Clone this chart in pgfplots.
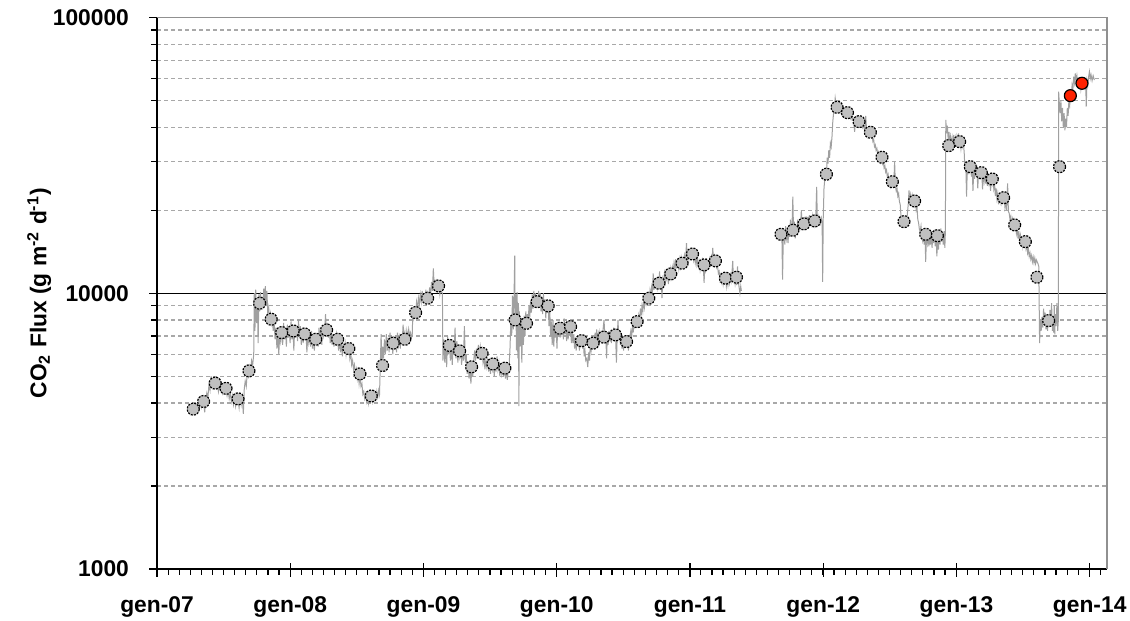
\documentclass[border=0pt]{standalone}
\usepackage{fontspec}
\setmainfont{Liberation Sans}
\usepackage{pgfplots}
\usepackage{pgfplotstable}
\pgfplotsset{compat=1.18}
\definecolor{linegray}{HTML}{A0A0A0}
\definecolor{markgray}{HTML}{C0C0C0}
\definecolor{gridgray}{HTML}{A8A8A8}
\definecolor{framegray}{HTML}{909090}
\definecolor{markred}{HTML}{FF2200}

% daily flux (gray line); nan breaks the line over the data gap
\pgfplotstableread{
x y
2007.240 3900
2007.250 3750
2007.258 3880
2007.266 3720
2007.272 3850
2007.280 3950
2007.288 3700
2007.296 3900
2007.304 3760
2007.312 4050
2007.320 3850
2007.328 4250
2007.336 3900
2007.344 4150
2007.350 4000
2007.358 3700
2007.366 4100
2007.374 4350
2007.382 4200
2007.390 4650
2007.398 4450
2007.406 5000
2007.414 4650
2007.422 4850
2007.430 4600
2007.437 4750
2007.445 4550
2007.453 4750
2007.461 4400
2007.469 4650
2007.477 4450
2007.485 4600
2007.493 4350
2007.501 4550
2007.509 4400
2007.518 4500
2007.526 4250
2007.534 4450
2007.542 4150
2007.550 4350
2007.558 4050
2007.566 4250
2007.574 3950
2007.582 4200
2007.590 3900
2007.598 4150
2007.608 4100
2007.616 3850
2007.624 4300
2007.632 3950
2007.640 4200
2007.648 3650
2007.655 4500
2007.662 4800
2007.670 4600
2007.678 5200
2007.686 5000
2007.694 5400
2007.702 5100
2007.710 5700
2007.718 5500
2007.726 6000
2007.730 10000
2007.735 7300
2007.741 10300
2007.747 7800
2007.753 9600
2007.759 6600
2007.765 9900
2007.771 8600
2007.777 10100
2007.783 8800
2007.789 9700
2007.795 9100
2007.801 10400
2007.807 9300
2007.813 10600
2007.819 9000
2007.825 10200
2007.831 8500
2007.838 8900
2007.845 7900
2007.852 8400
2007.858 7800
2007.865 8200
2007.872 7300
2007.879 7900
2007.886 6800
2007.893 7500
2007.900 6300
2007.907 7200
2007.914 6000
2007.921 7100
2007.928 6700
2007.936 7400
2007.943 6500
2007.950 7800
2007.957 6800
2007.964 7500
2007.971 6400
2007.978 7700
2007.985 6900
2007.992 7500
2007.999 6600
2008.006 7900
2008.013 6800
2008.020 7500
2008.027 6200
2008.034 7700
2008.041 6900
2008.048 7400
2008.055 6700
2008.062 8000
2008.069 7000
2008.076 7600
2008.083 6500
2008.090 7300
2008.097 6600
2008.104 7400
2008.111 6900
2008.118 7200
2008.125 6100
2008.132 7100
2008.139 6600
2008.146 7000
2008.153 6400
2008.160 7300
2008.167 6300
2008.174 6900
2008.181 6200
2008.188 6900
2008.195 6600
2008.202 7100
2008.209 6400
2008.216 7500
2008.223 6800
2008.230 7200
2008.237 6500
2008.244 7600
2008.251 7000
2008.258 7300
2008.265 8400
2008.272 7100
2008.279 7800
2008.286 6900
2008.293 7600
2008.300 6600
2008.307 7300
2008.314 6500
2008.321 7100
2008.328 6400
2008.335 7000
2008.342 6500
2008.349 7100
2008.356 6700
2008.363 6200
2008.370 6900
2008.377 6100
2008.384 6700
2008.391 5900
2008.398 6500
2008.405 6300
2008.412 6600
2008.419 6000
2008.426 6400
2008.433 6100
2008.440 6300
2008.447 5800
2008.454 6100
2008.461 5500
2008.468 5700
2008.475 5300
2008.482 5500
2008.489 5100
2008.496 5300
2008.503 4900
2008.510 5200
2008.517 4700
2008.524 5000
2008.531 4600
2008.538 4700
2008.545 4300
2008.552 4400
2008.559 4150
2008.566 4300
2008.573 4050
2008.580 4250
2008.587 4000
2008.594 4300
2008.601 4100
2008.608 4250
2008.615 4050
2008.622 4300
2008.629 4100
2008.636 4350
2008.643 4150
2008.650 4400
2008.657 4200
2008.664 4450
2008.670 4300
2008.676 5500
2008.682 7100
2008.688 5400
2008.694 6400
2008.700 5800
2008.707 6800
2008.714 6000
2008.721 7100
2008.728 6200
2008.735 6900
2008.742 6100
2008.749 7200
2008.756 6400
2008.763 6800
2008.770 6000
2008.777 7000
2008.784 6300
2008.791 6900
2008.798 6100
2008.805 7200
2008.812 6500
2008.819 6900
2008.826 6300
2008.833 7100
2008.840 6600
2008.847 7700
2008.854 6800
2008.861 7200
2008.868 6600
2008.875 7300
2008.882 6900
2008.889 7400
2008.896 7000
2008.903 7200
2008.910 6900
2008.916 7100
2008.920 8700
2008.927 8200
2008.934 9000
2008.941 8400
2008.948 9300
2008.955 8800
2008.962 9600
2008.969 9100
2008.976 9900
2008.983 9300
2008.990 10200
2008.997 9500
2009.004 9800
2009.011 9200
2009.018 10300
2009.025 9400
2009.032 10000
2009.039 9600
2009.046 10500
2009.053 9800
2009.060 11000
2009.067 10200
2009.074 12300
2009.081 10400
2009.088 11200
2009.095 10100
2009.102 10900
2009.109 10300
2009.116 10800
2009.123 9900
2009.130 10400
2009.136 10100
2009.142 10000
2009.146 5700
2009.153 6800
2009.160 5600
2009.167 6500
2009.174 5400
2009.181 7000
2009.188 6000
2009.195 6600
2009.202 5700
2009.209 6400
2009.216 5500
2009.223 6600
2009.230 6000
2009.237 7500
2009.244 5800
2009.251 6700
2009.258 5600
2009.265 6400
2009.272 5900
2009.279 6300
2009.286 5500
2009.293 6200
2009.300 5700
2009.307 7600
2009.314 5600
2009.321 6000
2009.328 5100
2009.335 5600
2009.342 4900
2009.349 5300
2009.356 4700
2009.363 5400
2009.370 5000
2009.377 5700
2009.384 6200
2009.391 5700
2009.398 6300
2009.405 5800
2009.412 6500
2009.419 6000
2009.426 6400
2009.433 5900
2009.440 6200
2009.447 5600
2009.454 5900
2009.461 5300
2009.468 5700
2009.475 5400
2009.482 5800
2009.489 5200
2009.496 5600
2009.503 5100
2009.510 5700
2009.517 5300
2009.524 5600
2009.531 5000
2009.538 5500
2009.545 5200
2009.552 5900
2009.559 5300
2009.566 5600
2009.573 5000
2009.580 5400
2009.587 5100
2009.594 5600
2009.601 5000
2009.608 5400
2009.615 4900
2009.622 5300
2009.629 4850
2009.636 5200
2009.643 5500
2009.650 6400
2009.656 8200
2009.662 7000
2009.668 9800
2009.674 7400
2009.680 10000
2009.685 13700
2009.688 7600
2009.693 9900
2009.698 6200
2009.703 10100
2009.708 5800
2009.713 9200
2009.716 3900
2009.720 8600
2009.726 6400
2009.732 8000
2009.738 5600
2009.744 7800
2009.750 6500
2009.756 8300
2009.762 7000
2009.768 8600
2009.774 7600
2009.780 8400
2009.786 7900
2009.792 9000
2009.798 8200
2009.804 9400
2009.810 8500
2009.816 9900
2009.822 8800
2009.828 10200
2009.834 9100
2009.840 10000
2009.846 9200
2009.852 9800
2009.858 8900
2009.864 10200
2009.870 9300
2009.876 10000
2009.882 8600
2009.888 9700
2009.894 8400
2009.900 10000
2009.906 8800
2009.912 9500
2009.918 8100
2009.924 9400
2009.930 8500
2009.936 9000
2009.942 7600
2009.948 8600
2009.954 7000
2009.960 7900
2009.966 6500
2009.972 8000
2009.978 6400
2009.984 7600
2009.990 6900
2009.996 7400
2010.002 6300
2010.008 7800
2010.014 7000
2010.020 7600
2010.026 6900
2010.032 7700
2010.038 7200
2010.044 7600
2010.050 6800
2010.056 8100
2010.062 7100
2010.068 7700
2010.074 6700
2010.080 7500
2010.086 6800
2010.092 7900
2010.098 7000
2010.104 7500
2010.110 6600
2010.116 7300
2010.122 6600
2010.128 7100
2010.134 6300
2010.140 6900
2010.146 6200
2010.152 6800
2010.158 6400
2010.164 6900
2010.170 6200
2010.176 6600
2010.182 6500
2010.188 6900
2010.194 6300
2010.200 6700
2010.206 5900
2010.212 6200
2010.218 5700
2010.226 5800
2010.233 5400
2010.240 6100
2010.246 5700
2010.252 6500
2010.258 6200
2010.264 6800
2010.270 6400
2010.276 6900
2010.282 6500
2010.288 7200
2010.294 6600
2010.300 7400
2010.306 6800
2010.312 7100
2010.318 6500
2010.324 7200
2010.330 6900
2010.336 7300
2010.342 6700
2010.348 7400
2010.355 8000
2010.362 6900
2010.368 7200
2010.374 5800
2010.380 7000
2010.386 6500
2010.392 7300
2010.398 6700
2010.404 7100
2010.410 6600
2010.416 7200
2010.422 6800
2010.428 7500
2010.434 6900
2010.441 7200
2010.448 5600
2010.454 7000
2010.460 8000
2010.466 6800
2010.472 7100
2010.478 6500
2010.484 7000
2010.490 6300
2010.496 6900
2010.502 6200
2010.508 6800
2010.514 6400
2010.520 6900
2010.526 6500
2010.532 6700
2010.538 6200
2010.544 6600
2010.550 7000
2010.556 7300
2010.562 6900
2010.568 7600
2010.574 7200
2010.580 7900
2010.586 7600
2010.592 8200
2010.598 7700
2010.604 8000
2010.610 7500
2010.616 8300
2010.622 8000
2010.628 8800
2010.634 8300
2010.640 9000
2010.646 8600
2010.652 9400
2010.658 8900
2010.664 9600
2010.670 9200
2010.676 9900
2010.682 9300
2010.688 9800
2010.694 9400
2010.700 10200
2010.706 9700
2010.712 10500
2010.718 10000
2010.724 11800
2010.730 10300
2010.736 10900
2010.742 10600
2010.748 11100
2010.754 10500
2010.760 11200
2010.766 10700
2010.772 12000
2010.778 10400
2010.784 11400
2010.790 9600
2010.796 11300
2010.802 11000
2010.808 11800
2010.814 11200
2010.820 12100
2010.826 11300
2010.832 11700
2010.838 10800
2010.844 11900
2010.850 11400
2010.856 12200
2010.862 11500
2010.868 12400
2010.874 11900
2010.880 12800
2010.886 12100
2010.892 13300
2010.898 12400
2010.904 12600
2010.910 13000
2010.916 12300
2010.922 13200
2010.928 12500
2010.934 13400
2010.940 12700
2010.946 13300
2010.952 12900
2010.958 13700
2010.964 13100
2010.970 14000
2010.974 15200
2010.980 13400
2010.986 14000
2010.992 13300
2010.998 14100
2011.004 13500
2011.010 14200
2011.016 13700
2011.022 14000
2011.028 13200
2011.034 13800
2011.040 12900
2011.046 13500
2011.052 12700
2011.058 13300
2011.064 12500
2011.070 13000
2011.076 12200
2011.082 12900
2011.088 12400
2011.094 13100
2011.100 12500
2011.106 10900
2011.112 12800
2011.118 12200
2011.124 13400
2011.130 12700
2011.136 13000
2011.142 12600
2011.148 13300
2011.154 12800
2011.160 13500
2011.166 13000
2011.171 14600
2011.177 13200
2011.183 13600
2011.189 12900
2011.195 13300
2011.201 12400
2011.207 12600
2011.213 11800
2011.219 12000
2011.225 11200
2011.231 11600
2011.237 11000
2011.243 11500
2011.249 10800
2011.255 11400
2011.261 11000
2011.267 11500
2011.273 10600
2011.279 11200
2011.285 10700
2011.291 11400
2011.297 10900
2011.303 11600
2011.309 11100
2011.315 11800
2011.321 13100
2011.327 11000
2011.333 11500
2011.339 10800
2011.345 11300
2011.351 10700
2011.357 12500
2011.363 11000
2011.369 10500
2011.375 10000
2011.381 10600
2011.386 10200
2011.500 nan
2011.690 16000
2011.695 11200
2011.700 15500
2011.706 16800
2011.712 15000
2011.718 17500
2011.724 15800
2011.730 16500
2011.736 15200
2011.742 17000
2011.748 16000
2011.754 18500
2011.760 16500
2011.766 17500
2011.772 22400
2011.778 16200
2011.784 18200
2011.790 15800
2011.796 17600
2011.802 16600
2011.808 18500
2011.814 17000
2011.820 18000
2011.826 17300
2011.832 18400
2011.836 20000
2011.842 17200
2011.848 18800
2011.854 17400
2011.860 18900
2011.866 17600
2011.872 19000
2011.878 17800
2011.884 18900
2011.890 17500
2011.896 19200
2011.902 18000
2011.908 18500
2011.914 17800
2011.920 19000
2011.926 18000
2011.932 18800
2011.938 17700
2011.944 18600
2011.951 24300
2011.956 18300
2011.962 19000
2011.968 18200
2011.974 18800
2011.980 18000
2011.986 18700
2011.992 17900
2011.996 11000
2012.000 18500
2012.006 24000
2012.012 26000
2012.018 27500
2012.024 27000
2012.030 31000
2012.036 29500
2012.042 33000
2012.048 31000
2012.054 35000
2012.060 34000
2012.066 37000
2012.072 42000
2012.078 45000
2012.084 47000
2012.090 51000
2012.096 48500
2012.102 47500
2012.108 46500
2012.114 48000
2012.120 46000
2012.126 47000
2012.132 45500
2012.138 46800
2012.144 44800
2012.150 46000
2012.156 44000
2012.162 45300
2012.168 43800
2012.174 45500
2012.180 44500
2012.186 45800
2012.192 44000
2012.198 44800
2012.204 43200
2012.210 44200
2012.216 42800
2012.222 43500
2012.228 42000
2012.236 38500
2012.242 42500
2012.248 41200
2012.254 42800
2012.260 41500
2012.266 42200
2012.272 41000
2012.278 41800
2012.284 40500
2012.290 41500
2012.296 40000
2012.302 41000
2012.308 39500
2012.314 40500
2012.319 44000
2012.325 39500
2012.331 39800
2012.337 38500
2012.343 39200
2012.349 38000
2012.355 38600
2012.361 37000
2012.367 37500
2012.373 35500
2012.379 36000
2012.385 34000
2012.391 34500
2012.397 33000
2012.403 33500
2012.409 32000
2012.415 32500
2012.421 31000
2012.427 31500
2012.433 30000
2012.439 31000
2012.445 29500
2012.451 30000
2012.457 28500
2012.463 29000
2012.469 27500
2012.475 28000
2012.481 26500
2012.487 27000
2012.493 25500
2012.499 26000
2012.505 24500
2012.511 25500
2012.517 24800
2012.523 25600
2012.529 24200
2012.536 30000
2012.542 24500
2012.548 23500
2012.554 24000
2012.560 22500
2012.566 23000
2012.572 21500
2012.578 21000
2012.584 19000
2012.590 18500
2012.596 18000
2012.602 17600
2012.608 18400
2012.614 17800
2012.620 18500
2012.626 18000
2012.632 19500
2012.638 21000
2012.644 23600
2012.650 22000
2012.656 22800
2012.662 21500
2012.668 22500
2012.674 21000
2012.680 21800
2012.686 20800
2012.692 21500
2012.698 20000
2012.704 20500
2012.710 18500
2012.716 18000
2012.722 17000
2012.728 16800
2012.734 17500
2012.740 16000
2012.746 15500
2012.752 16500
2012.758 15000
2012.764 16800
2012.769 13000
2012.775 16000
2012.781 15200
2012.787 16600
2012.793 14800
2012.799 16200
2012.805 15000
2012.811 16800
2012.817 14600
2012.823 16500
2012.829 15200
2012.835 17000
2012.841 14800
2012.847 16400
2012.853 13600
2012.859 16000
2012.865 14400
2012.871 16600
2012.877 15000
2012.883 17200
2012.889 15400
2012.895 16500
2012.901 15000
2012.907 16800
2012.913 14600
2012.917 16800
2012.920 42500
2012.926 38000
2012.932 40500
2012.938 36000
2012.944 38500
2012.950 35000
2012.956 37000
2012.962 34500
2012.968 36500
2012.974 34000
2012.980 37500
2012.986 35000
2012.992 36500
2012.998 34000
2013.004 37000
2013.010 35500
2013.016 38000
2013.022 35000
2013.028 36000
2013.034 33500
2013.040 35500
2013.046 34000
2013.052 35000
2013.058 32500
2013.064 28000
2013.070 29500
2013.076 22400
2013.082 29000
2013.088 27000
2013.094 30000
2013.100 28000
2013.106 29500
2013.112 26500
2013.118 28500
2013.124 23500
2013.130 28000
2013.136 26000
2013.142 28500
2013.148 27000
2013.154 28000
2013.160 24000
2013.166 27500
2013.172 26500
2013.178 28000
2013.184 26500
2013.190 27500
2013.196 23800
2013.202 27000
2013.208 25500
2013.214 27200
2013.220 25000
2013.226 26500
2013.232 24500
2013.238 26500
2013.244 25000
2013.250 26000
2013.256 23500
2013.262 26000
2013.268 25000
2013.274 26500
2013.280 24000
2013.286 25000
2013.292 22500
2013.298 24000
2013.304 22000
2013.310 23000
2013.316 21000
2013.322 22500
2013.328 21500
2013.334 23000
2013.340 21500
2013.346 22800
2013.352 21800
2013.358 22500
2013.364 20500
2013.370 21500
2013.376 20000
2013.384 25000
2013.390 19800
2013.396 19500
2013.402 18500
2013.408 19000
2013.414 17800
2013.420 18500
2013.426 17000
2013.432 18200
2013.438 17200
2013.444 17800
2013.450 16500
2013.456 17200
2013.462 15800
2013.468 16800
2013.474 15500
2013.480 16200
2013.486 15200
2013.492 15800
2013.498 14800
2013.504 15600
2013.510 14900
2013.516 15400
2013.522 14500
2013.528 15000
2013.534 14000
2013.540 14500
2013.546 13600
2013.552 14000
2013.558 13300
2013.564 13700
2013.570 13000
2013.576 13500
2013.582 12900
2013.588 13400
2013.594 12800
2013.600 13200
2013.606 13000
2013.612 12800
2013.618 12500
2013.624 6600
2013.630 8000
2013.636 7300
2013.642 8200
2013.648 7500
2013.654 8800
2013.660 7700
2013.666 8500
2013.672 7400
2013.678 8100
2013.684 7300
2013.690 8300
2013.696 7600
2013.702 8700
2013.708 7800
2013.714 9200
2013.720 7300
2013.726 8200
2013.730 7200
2013.734 9000
2013.738 7100
2013.742 8400
2013.748 7600
2013.754 9200
2013.760 7300
2013.765 8000
2013.767 53800
2013.772 49000
2013.778 45000
2013.784 50000
2013.790 42000
2013.796 47000
2013.802 40000
2013.808 45000
2013.814 39000
2013.820 43000
2013.826 40000
2013.832 47000
2013.838 44000
2013.844 50000
2013.850 48000
2013.856 53000
2013.862 51000
2013.868 57000
2013.874 55000
2013.880 61000
2013.886 58000
2013.892 62700
2013.898 59000
2013.904 61500
2013.910 57000
2013.916 60500
2013.922 56000
2013.928 59500
2013.934 55000
2013.940 58000
2013.946 56500
2013.952 57500
2013.958 59000
2013.964 56000
2013.970 58500
2013.974 47500
2013.980 59000
2013.986 57000
2013.992 61000
2013.998 63600
2014.004 60000
2014.010 62000
2014.018 59000
2014.026 61500
2014.035 59300
}\linedata

% monthly means (gray circles)
\pgfplotstableread{
x y
2007.272 3800
2007.350 4050
2007.437 4720
2007.518 4520
2007.608 4140
2007.690 5230
2007.770 9200
2007.857 8050
2007.936 7200
2008.023 7300
2008.108 7120
2008.191 6810
2008.273 7360
2008.356 6810
2008.440 6300
2008.523 5100
2008.608 4240
2008.693 5470
2008.773 6590
2008.860 6810
2008.941 8510
2009.031 9590
2009.113 10630
2009.194 6470
2009.271 6180
2009.361 5410
2009.440 6050
2009.521 5540
2009.611 5350
2009.688 8000
2009.773 7780
2009.853 9320
2009.936 9000
2010.023 7470
2010.104 7570
2010.186 6730
2010.273 6590
2010.353 6930
2010.441 7060
2010.524 6680
2010.603 7890
2010.691 9590
2010.768 10870
2010.856 11750
2010.941 12850
2011.019 13880
2011.106 12670
2011.191 13100
2011.266 11340
2011.349 11430
2011.683 16360
2011.773 16920
2011.855 17840
2011.936 18290
2012.024 27020
2012.104 47250
2012.182 45170
2012.269 41910
2012.354 38360
2012.441 31130
2012.519 25380
2012.606 18180
2012.686 21610
2012.769 16360
2012.857 16170
2012.942 34300
2013.024 35460
2013.104 28770
2013.187 27370
2013.269 25960
2013.354 22210
2013.437 17690
2013.517 15390
2013.604 11430
2013.692 7960
2013.774 28770
}\monthly

% last two monthly means (red circles)
\pgfplotstableread{
x y
2013.855 52060
2013.942 57730
}\redpts

\begin{document}
\begin{tikzpicture}
\useasboundingbox (0,0) rectangle (565pt,310.5pt);
\begin{axis}[
  at={(78.5pt,26pt)}, anchor=south west,
  scale only axis, width=475pt, height=275.75pt,
  xmin=2007, xmax=2014.13,
  ymode=log, ymin=1000, ymax=100000,
  axis x line*=bottom, axis y line*=left,
  axis line style={black, line width=0.6pt},
  xtick={2007,2008,2009,2010,2011,2012,2013,2014},
  xticklabels={gen-07,gen-08,gen-09,gen-10,gen-11,gen-12,gen-13,gen-14},
  minor xtick={2007.08333,2007.16667,...,2014.1},
  ytick={1000,10000,100000},
  yticklabels={1000,10000,100000},
  minor ytick={2000,3000,4000,5000,6000,7000,8000,9000,20000,30000,40000,50000,60000,70000,80000,90000},
  ymajorgrids, yminorgrids,
  major grid style={black, line width=0.6pt},
  minor grid style={gridgray, line width=0.6pt, dash pattern=on 2pt off 1.5pt},
  tick align=outside,
  major tick length=4pt, minor tick length=3pt,
  tick style={black, line width=0.6pt},
  extra x ticks={2007,2008,2009,2010,2011,2012,2013,2014},
  extra x tick labels={},
  extra x tick style={tick align=inside, major tick length=3pt},
  tick label style={font=\fontsize{11.4}{13}\selectfont\bfseries},
  xticklabel style={yshift=-6.5pt},
  yticklabel style={xshift=-6.5pt},
  ylabel={\bfseries CO\textsubscript{2} Flux (g m\textsuperscript{-2} d\textsuperscript{-1})},
  ylabel style={font=\fontsize{11.4}{13}\selectfont, at={(axis description cs:-0.124,0.5)}, anchor=center},
  clip=false,
  after end axis/.code={
    \draw[framegray, line width=0.6pt] (rel axis cs:0,1) -- (rel axis cs:1,1) -- (rel axis cs:1,0);
  },
]
\addplot[linegray, line width=0.5pt, unbounded coords=jump] table {\linedata};
\addplot[only marks, mark=*, mark size=3pt,
  mark options={fill=markgray, draw=black, line width=0.6pt, dash pattern=on 1pt off 0.6pt}] table {\monthly};
\addplot[only marks, mark=*, mark size=3pt,
  mark options={fill=markred, draw=black, line width=0.6pt, solid}] table {\redpts};
\end{axis}
\end{tikzpicture}
\end{document}
